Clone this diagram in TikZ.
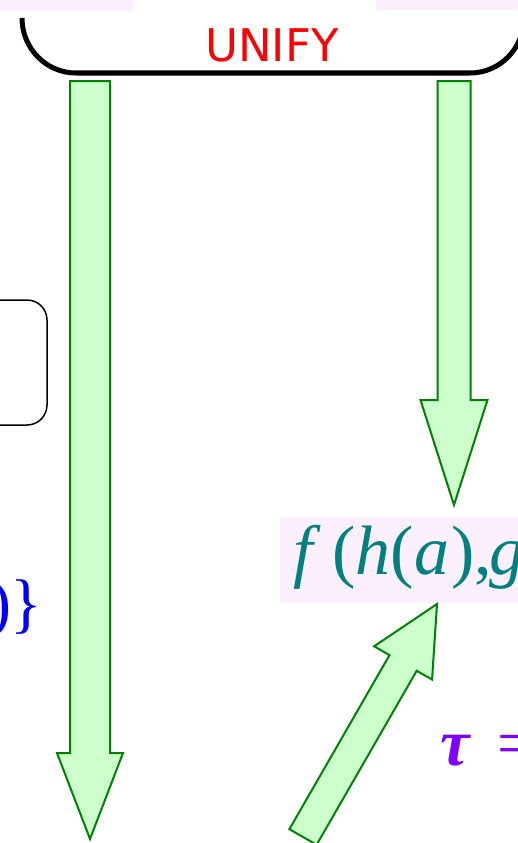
\documentclass[tikz,border=0pt]{standalone}
\usepackage{fontspec}
\setmainfont{Liberation Serif}
\newfontfamily\unifyfont{DejaVu Sans}
\usepackage{tikz}
\usetikzlibrary{calc}
\definecolor{pinkbg}{RGB}{253,240,253}
\definecolor{arrfill}{RGB}{204,255,204}
\definecolor{arrline}{RGB}{0,128,0}
\definecolor{termteal}{RGB}{0,128,128}
\definecolor{taupurple}{RGB}{128,0,255}
\tikzset{
  bigarrow/.style={fill=arrfill,draw=arrline,line width=2pt,line join=miter},
  bigfont/.style={font=\fontsize{66pt}{70pt}\selectfont,inner sep=0pt}
}
\newcommand{\blockarr}[5]{%
  \coordinate (neck) at ($(#2)!#5!(#1)$);
  \draw[bigarrow] ($(#1)!#3!90:(#2)$) -- ($(neck)!#3!90:(#2)$) -- ($(neck)!#4!90:(#2)$) -- (#2)
    -- ($(neck)!#4!-90:(#2)$) -- ($(neck)!#3!-90:(#2)$) -- ($(#1)!#3!-90:(#2)$) -- cycle;}

\begin{document}
\begin{tikzpicture}[x=1pt,y=-1pt]
      \useasboundingbox (0,0) rectangle (518,843);
      \clip (0,0) rectangle (518,843);
      \fill[pinkbg] (-10,-20) rectangle (134,11);
      \fill[pinkbg] (376,-20) rectangle (530,10);
      \draw[line width=5pt] (22,18) to[out=-90,in=180] (76,73) -- (470,73) to[out=0,in=-90] (524,18);
      \node[font=\unifyfont\fontsize{45pt}{50pt}\selectfont,text=red] (unify) at (272,45) {UNIFY};
      \draw[line width=1.5pt,rounded corners=20pt] (-40,300) rectangle (47,425);
      \fill[pinkbg] (280,517) rectangle (530,603);
      \node[bigfont,font=\fontsize{70pt}{74pt}\selectfont,anchor=base west,text=termteal] (fterm) at (293,574)
        {\textit{f}\,(\textit{h}(\textit{a}\kern2pt),\kern-2pt\textit{g}};
      \node[bigfont,anchor=base east,text=blue] (setend) at (42,625) {)\kern-1pt\}};
      \node[bigfont,anchor=base west,text=taupurple] (taueq) at (440,765) {\textbf{\textit{τ}}\hspace{0.4em}=};
      \coordinate (ltail) at (90,81);
      \coordinate (ltip) at (90,839);
      \coordinate (rtail) at (454,81);
      \coordinate (rtip) at (454,505);
      \coordinate (dtail) at (303,837);
      \coordinate (dtip) at (437,604);
      \blockarr{ltail}{ltip}{20pt}{33pt}{86pt}
      \blockarr{rtail}{rtip}{16.5pt}{33.5pt}{105pt}
      \blockarr{dtail}{dtip}{15.7pt}{33.4pt}{68pt}
    \end{tikzpicture}
\end{document}
